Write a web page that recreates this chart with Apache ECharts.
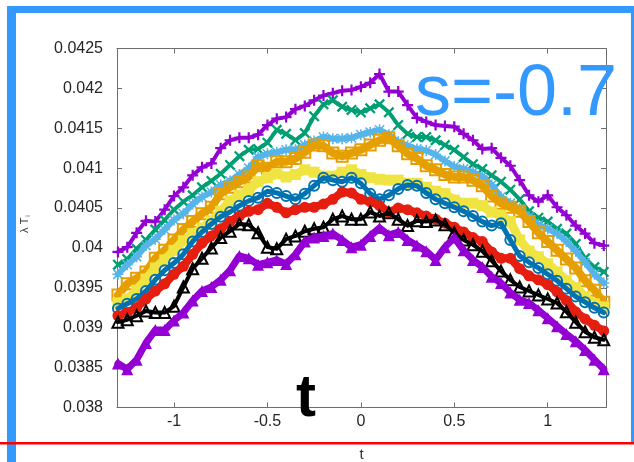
<!DOCTYPE html>
<html>
<head>
<meta charset="utf-8">
<script src="https://cdn.jsdelivr.net/npm/echarts@6/dist/echarts.min.js"></script>
<style>
  html, body { margin: 0; padding: 0; background: #fff; }
  #chart { width: 634px; height: 462px; }
</style>
</head>
<body>
<div id="chart"></div>
<script>
// Sample positions along t
const tValues = [-1.30,-1.25,-1.20,-1.15,-1.10,-1.05,-1.00,-0.95,-0.90,-0.85,-0.80,-0.75,-0.70,-0.65,-0.60,-0.55,-0.50,-0.45,-0.40,-0.35,-0.30,-0.25,-0.20,-0.15,-0.10,-0.05,0.00,0.05,0.10,0.15,0.20,0.25,0.30,0.35,0.40,0.45,0.50,0.55,0.60,0.65,0.70,0.75,0.80,0.85,0.90,0.95,1.00,1.05,1.10,1.15,1.20,1.25,1.30];

// Axis ticks
const xTicks = [-1, -0.5, 0, 0.5, 1];
const yMin = 0.038, yMax = 0.0425, yStep = 0.0005;

// lambda_{T_i}(t), one array per curve (top to bottom)
const curve1 = [0.03995,0.04001,0.04019,0.04034,0.04033,0.04048,0.04065,0.04076,0.04091,0.04101,0.04106,0.04125,0.04135,0.04138,0.04138,0.04142,0.04154,0.04162,0.04164,0.04174,0.04178,0.04185,0.04191,0.04194,0.04197,0.04198,0.04202,0.04207,0.04218,0.04196,0.04196,0.04179,0.04163,0.04158,0.04154,0.04153,0.04152,0.04143,0.04135,0.04124,0.04125,0.04113,0.04103,0.04085,0.04066,0.04058,0.04066,0.04051,0.04041,0.04028,0.04018,0.04006,0.04003];
const curve2 = [0.03979,0.03986,0.03999,0.04010,0.04023,0.04035,0.04048,0.04058,0.04066,0.04076,0.04084,0.04093,0.04104,0.04115,0.04123,0.04124,0.04132,0.04148,0.04143,0.04135,0.04144,0.04165,0.04180,0.04185,0.04177,0.04173,0.04170,0.04175,0.04180,0.04170,0.04154,0.04143,0.04139,0.04139,0.04135,0.04129,0.04123,0.04114,0.04105,0.04099,0.04091,0.04083,0.04073,0.04061,0.04046,0.04038,0.04033,0.04024,0.04018,0.04005,0.03987,0.03976,0.03970];
const curve3 = [0.03967,0.03979,0.03989,0.04003,0.04011,0.04023,0.04035,0.04043,0.04055,0.04064,0.04070,0.04079,0.04084,0.04092,0.04100,0.04114,0.04118,0.04120,0.04123,0.04123,0.04129,0.04134,0.04139,0.04137,0.04137,0.04138,0.04142,0.04145,0.04148,0.04142,0.04133,0.04128,0.04124,0.04122,0.04117,0.04109,0.04102,0.04099,0.04095,0.04090,0.04079,0.04064,0.04056,0.04049,0.04039,0.04029,0.04024,0.04018,0.04008,0.03996,0.03982,0.03967,0.03956];
const curve4 = [0.03941,0.03955,0.03962,0.03970,0.03987,0.03997,0.04010,0.04023,0.04033,0.04043,0.04051,0.04068,0.04076,0.04083,0.04089,0.04103,0.04100,0.04108,0.04108,0.04112,0.04120,0.04129,0.04128,0.04119,0.04115,0.04119,0.04123,0.04129,0.04135,0.04138,0.04128,0.04118,0.04112,0.04103,0.04098,0.04092,0.04089,0.04089,0.04085,0.04078,0.04065,0.04056,0.04051,0.04046,0.04033,0.04019,0.04008,0.03997,0.03986,0.03975,0.03959,0.03947,0.03932];
const curve5 = [0.03931,0.03936,0.03947,0.03961,0.03975,0.03985,0.03997,0.04009,0.04018,0.04025,0.04034,0.04046,0.04059,0.04066,0.04073,0.04083,0.04088,0.04093,0.04089,0.04092,0.04098,0.04095,0.04090,0.04090,0.04095,0.04098,0.04092,0.04088,0.04086,0.04085,0.04085,0.04081,0.04081,0.04076,0.04071,0.04068,0.04060,0.04056,0.04056,0.04053,0.04045,0.04041,0.04033,0.04010,0.03996,0.03989,0.03980,0.03970,0.03959,0.03950,0.03939,0.03930,0.03926];
const curve6 = [0.03924,0.03930,0.03936,0.03946,0.03960,0.03972,0.03981,0.03992,0.04008,0.04020,0.04030,0.04039,0.04045,0.04053,0.04059,0.04063,0.04071,0.04069,0.04065,0.04061,0.04068,0.04078,0.04088,0.04085,0.04083,0.04088,0.04081,0.04068,0.04061,0.04066,0.04074,0.04079,0.04078,0.04069,0.04061,0.04056,0.04051,0.04046,0.04040,0.04033,0.04028,0.04031,0.04010,0.03990,0.03982,0.03975,0.03967,0.03959,0.03949,0.03939,0.03932,0.03925,0.03919];
const curve7 = [0.03915,0.03919,0.03925,0.03936,0.03946,0.03955,0.03967,0.03977,0.03992,0.04006,0.04015,0.04024,0.04033,0.04040,0.04046,0.04048,0.04056,0.04051,0.04044,0.04048,0.04051,0.04051,0.04055,0.04061,0.04070,0.04069,0.04061,0.04058,0.04053,0.04045,0.04050,0.04048,0.04044,0.04040,0.04036,0.04031,0.04026,0.04020,0.04013,0.04008,0.03995,0.03987,0.03987,0.03974,0.03965,0.03960,0.03954,0.03945,0.03934,0.03920,0.03911,0.03903,0.03896];
const curve8 = [0.03907,0.03910,0.03915,0.03921,0.03919,0.03919,0.03927,0.03951,0.03974,0.03987,0.04000,0.04013,0.04021,0.04030,0.04029,0.04019,0.04001,0.03999,0.04011,0.04015,0.04021,0.04024,0.04026,0.04036,0.04040,0.04036,0.04036,0.04045,0.04040,0.04044,0.04036,0.04028,0.04034,0.04033,0.04035,0.04029,0.04019,0.04010,0.04004,0.03996,0.03984,0.03971,0.03960,0.03951,0.03946,0.03941,0.03936,0.03931,0.03920,0.03907,0.03895,0.03888,0.03885];
const curve9 = [0.03855,0.03848,0.03860,0.03881,0.03897,0.03897,0.03909,0.03919,0.03934,0.03946,0.03951,0.03960,0.03972,0.03990,0.03987,0.03979,0.03982,0.03985,0.03980,0.03992,0.04008,0.04013,0.04015,0.04018,0.04010,0.04001,0.04004,0.04015,0.04025,0.04016,0.04020,0.04010,0.04003,0.03996,0.03985,0.04001,0.04013,0.03997,0.03985,0.03976,0.03964,0.03956,0.03944,0.03935,0.03931,0.03922,0.03912,0.03902,0.03892,0.03883,0.03872,0.03860,0.03848];

// Marker shapes (plus, cross, asterisk)
const PLUS = 'path://M4,0H6V4H10V6H6V10H4V6H0V4H4Z';
const CROSS = 'path://M0.3,1.7L1.7,0.3L9.7,8.3L8.3,9.7Z M8.3,0.3L9.7,1.7L1.7,9.7L0.3,8.3Z';
const STAR = 'path://M4.3,0H5.7V4.3H10V5.7H5.7V10H4.3V5.7H0V4.3H4.3Z M0.3,1.3L1.3,0.3L9.7,8.7L8.7,9.7Z M8.7,0.3L9.7,1.3L1.3,9.7L0.3,8.7Z';

const styles = [
  { data: curve1, color: '#9400d3', symbol: PLUS,       size: 11, open: false, lw: 4 },
  { data: curve2, color: '#009e73', symbol: CROSS,      size: 11, open: false, lw: 4 },
  { data: curve3, color: '#56b4e9', symbol: STAR,       size: 11, open: false, lw: 6 },
  { data: curve4, color: '#e69f00', symbol: 'rect',     size: 11, open: true,  lw: 8 },
  { data: curve5, color: '#f0e442', symbol: 'rect',     size: 11, open: false, lw: 9 },
  { data: curve6, color: '#0072b2', symbol: 'circle',   size: 10, open: true,  lw: 5 },
  { data: curve7, color: '#e51e10', symbol: 'circle',   size: 11, open: false, lw: 8 },
  { data: curve8, color: '#000000', symbol: 'triangle', size: 11, open: true,  lw: 4 },
  { data: curve9, color: '#9400d3', symbol: 'triangle', size: 12, open: false, lw: 7 }
];

const series = styles.map((s, k) => ({
  type: 'line',
  xAxisIndex: 0,
  yAxisIndex: 0,
  data: tValues.map((t, i) => [t, s.data[i]]),
  symbol: s.symbol,
  symbolSize: s.size,
  showSymbol: true,
  lineStyle: { color: s.color, width: s.lw, join: 'round', cap: 'round' },
  itemStyle: s.open
    ? { color: 'rgba(255,255,255,0)', borderColor: s.color, borderWidth: 2 }
    : { color: s.color, borderWidth: 0 },
  z: 2 + k,
  silent: true
}));

const axisGray = '#6e6e6e';
const labelFont = { fontFamily: 'Liberation Sans, Arial, sans-serif', fontSize: 16, color: '#262626' };
const fmt = v => String(parseFloat(v.toFixed(5)));

const chart = echarts.init(document.getElementById('chart'), null, { renderer: 'canvas' });
chart.setOption({
  animation: false,
  backgroundColor: '#ffffff',
  grid: { left: 117, right: 28, top: 48.5, bottom: 54.5, containLabel: false, outerBoundsMode: 'none' },
  xAxis: [
    {
      type: 'value', position: 'bottom', min: -1.305, max: 1.312,
      splitLine: { show: false },
      axisLine: { show: true, onZero: false, lineStyle: { color: axisGray, width: 1 } },
      axisTick: { show: true, inside: true, length: 5, customValues: xTicks, lineStyle: { color: axisGray } },
      axisLabel: Object.assign({ margin: 6, customValues: xTicks, formatter: fmt }, labelFont),
      name: 't', nameLocation: 'middle', nameGap: 40,
      nameTextStyle: { fontFamily: 'Liberation Sans, Arial, sans-serif', fontSize: 15, color: '#333' }
    },
    {
      type: 'value', position: 'top', min: -1.305, max: 1.312,
      splitLine: { show: false },
      axisLine: { show: true, onZero: false, lineStyle: { color: axisGray, width: 1 } },
      axisTick: { show: true, inside: true, length: 5, customValues: xTicks, lineStyle: { color: axisGray } },
      axisLabel: { show: false }
    }
  ],
  yAxis: [
    {
      type: 'value', position: 'left', min: yMin, max: yMax, interval: yStep,
      splitLine: { show: false },
      axisLine: { show: true, onZero: false, lineStyle: { color: axisGray, width: 1 } },
      axisTick: { show: true, inside: true, length: 5, lineStyle: { color: axisGray } },
      axisLabel: Object.assign({ margin: 14, formatter: fmt }, labelFont)
    },
    {
      type: 'value', position: 'right', min: yMin, max: yMax, interval: yStep,
      splitLine: { show: false },
      axisLine: { show: true, onZero: false, lineStyle: { color: axisGray, width: 1 } },
      axisTick: { show: true, inside: true, length: 5, lineStyle: { color: axisGray } },
      axisLabel: { show: false }
    }
  ],
  series: series,
  graphic: [
    // y-axis title, rotated
    {
      type: 'text', x: 25, y: 224, rotation: Math.PI / 2, z: 10,
      style: {
        text: '{a|λ T}{s|i}',
        align: 'center', verticalAlign: 'middle',
        rich: {
          a: { fontFamily: 'Liberation Sans, Arial, sans-serif', fontSize: 11, fill: '#333' },
          s: { fontFamily: 'Liberation Sans, Arial, sans-serif', fontSize: 7, fill: '#333', padding: [6, 0, 0, 1] }
        }
      }
    },
    // annotation in the upper right
    {
      type: 'text', x: 415, y: 95, z: 20,
      style: {
        text: 's=-0.7', fill: '#3399ff',
        fontFamily: 'Liberation Sans, Arial, sans-serif', fontSize: 72,
        align: 'left', verticalAlign: 'middle'
      }
    },
    // large variable label over the axis
    {
      type: 'text', x: 306, y: 399, z: 20,
      style: {
        text: 't', fill: '#000000',
        fontFamily: 'Liberation Sans, Arial, sans-serif', fontSize: 60, fontWeight: 'bold',
        align: 'center', verticalAlign: 'middle'
      }
    },
    // frame
    { type: 'rect', z: 30, shape: { x: 7, y: 6, width: 627, height: 7 }, style: { fill: '#3399ff' } },
    { type: 'rect', z: 30, shape: { x: 7, y: 6, width: 9, height: 456 }, style: { fill: '#3399ff' } },
    { type: 'rect', z: 30, shape: { x: 631, y: 6, width: 3, height: 437 }, style: { fill: '#3399ff' } },
    { type: 'rect', z: 31, shape: { x: 0, y: 442, width: 634, height: 2.5 }, style: { fill: '#ff0000' } }
  ]
});
</script>
</body>
</html>
